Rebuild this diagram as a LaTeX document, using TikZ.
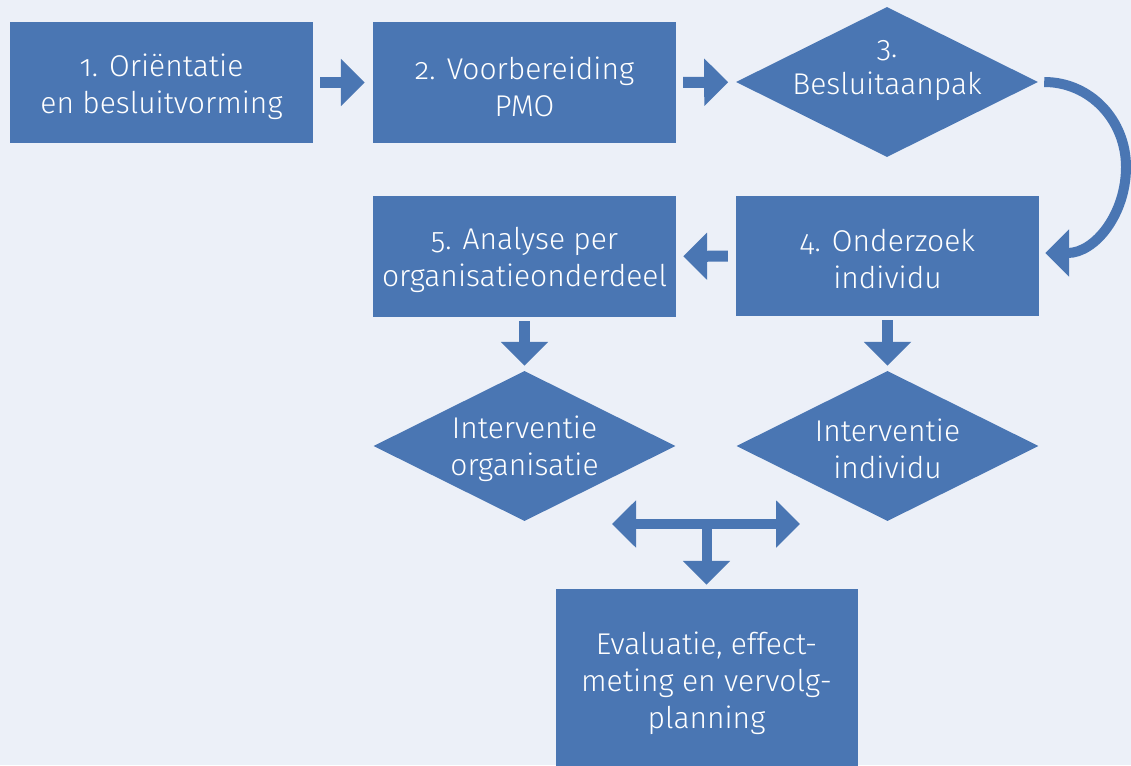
\documentclass[tikz,border=0pt]{standalone}
\usepackage{fontspec}
\setmainfont{Fira Sans Light}[Numbers=OldStyle]
\usetikzlibrary{arrows.meta,shapes.geometric}
\definecolor{bg}{HTML}{ECF0F8}
\definecolor{blk}{HTML}{4A76B3}
\begin{document}
\begin{tikzpicture}[x=1pt,y=-1pt,
  box/.style={fill=blk, draw=none, minimum width=303pt, minimum height=121pt, inner sep=0pt},
  dia/.style={fill=blk, draw=none, diamond, minimum width=302pt, minimum height=150pt, inner sep=0pt},
  txt/.style={text=white, font=\fontsize{30}{37}\selectfont, align=center, inner sep=0pt},
  tip/.tip={Triangle[width=46pt,length=24pt]},
  conn/.style={draw=blk, line width=11pt, -tip}]
\fill[bg] (0,0) rectangle (1131,765);
\useasboundingbox (0,0) rectangle (1131,765);

\node[box] (b1) at (161.5,82.5) {};
\node[txt] (t1) at ([yshift=-4pt]b1.center) {1. Oriëntatie\\en besluitvorming};
\node[box] (b2) at (524.5,82.5) {};
\node[txt] (t2) at ([yshift=-4pt]b2.center) {2. Voorbereiding\\PMO};
\node[dia] (d3) at (887,82) {};
\node[txt] (t3) at (887,71) {3.\\Besluitaanpak};
\node[box, minimum height=120pt] (b4) at (887.5,256) {};
\node[txt] (t4) at ([yshift=-3pt]b4.center) {4. Onderzoek\\individu};
\node[box] (b5) at (524.5,256.5) {};
\node[txt] (t5) at ([yshift=-3pt]b5.center) {5. Analyse per\\organisatieonderdeel};
\node[dia] (d5) at (524.5,446) {};
\node[txt] (t6) at (524.5,449) {Interventie\\organisatie};
\node[dia] (d4) at (887.5,446) {};
\node[txt] (t7) at (887.5,449) {Interventie\\individu};
\node[box, minimum width=302pt, minimum height=184pt] (ev) at (706.5,681) {};
\node[txt] (t8) at (706.5,683) {Evaluatie, effect-\\meting en vervolg-\\planning};

\draw[conn, shorten <=7pt, shorten >=8pt] (b1) -- (b2);
\draw[conn, shorten <=7pt, shorten >=8pt] (b2) -- (d3);
\draw[conn, shorten <=8pt, shorten >=7pt] (b4) -- (b5);
\draw[conn, shorten <=4pt, shorten >=5pt] (b5) -- (d5);
\draw[conn, shorten <=4pt, shorten >=5pt] (b4) -- (d4);
\draw[conn, line width=10pt, shorten <=6pt, shorten >=6pt]
  (d3.east) .. controls (1090,82) and (1126,120) .. (1126,167)
  .. controls (1126,214) and (1095,253) .. ([yshift=3pt]b4.east);

\coordinate (tl) at (612,524);
\coordinate (tr) at (800,524);
\coordinate (tj) at (706.5,524);
\draw[conn, line width=10pt, tip-tip] (tl) -- (tr);
\draw[conn, line width=10pt, shorten >=4pt] (tj) -- (ev);
\end{tikzpicture}
\end{document}
